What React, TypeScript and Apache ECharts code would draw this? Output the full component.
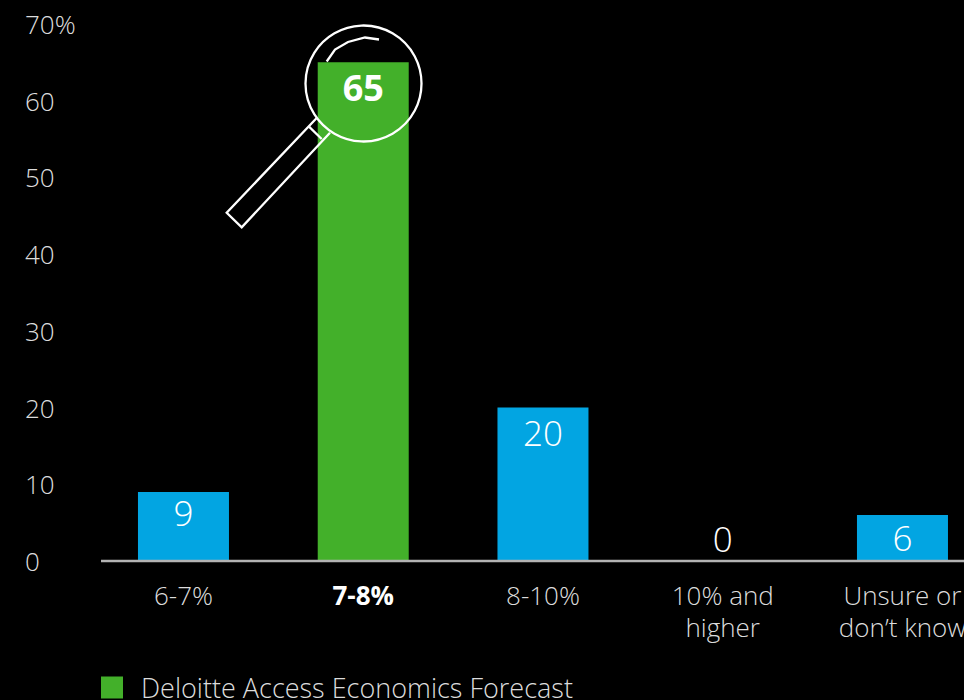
import React, { useEffect, useRef } from "react";
import * as echarts from "echarts";

const categories = ["6-7%", "7-8%", "8-10%", "10% and\nhigher", "Unsure or\ndon’t know"];
const values = [9, 65, 20, 0, 6];
const highlighted = "7-8%";
const seriesName = "Deloitte Access Economics Forecast";
const axisMax = 70;
const axisStep = 10;

const BLUE = "#02a5e2";
const GREEN = "#43b02a";
const FONT = "'Open Sans', sans-serif";
const RING = { stroke: "#fff", lineWidth: 2.3 };

// Gap between a bar's top and its value label; short bars sit tighter
const labelGap = (v: number) => (v === 0 ? 5 : v < 8 ? 5 : v < 10 ? 3 : 7);

export default function App() {
  const ref = useRef<HTMLDivElement>(null);

  useEffect(() => {
    document.body.style.margin = "0";
    document.body.style.background = "#000";
    const chart = echarts.init(ref.current!, undefined, { renderer: "svg" });
    chart.setOption({
      animation: false,
      backgroundColor: "#000",
      textStyle: { fontFamily: FONT },
      // The last category runs past the right edge of the canvas
      grid: {
        left: 93.6,
        width: 898.75,
        top: 24,
        height: 537,
        containLabel: false,
        outerBoundsMode: "none",
      },
      legend: {
        left: 101,
        top: 674,
        itemWidth: 22,
        itemHeight: 22,
        itemGap: 0,
        icon: "rect",
        padding: 0,
        textStyle: {
          color: "#dcdcdc",
          fontFamily: FONT,
          fontWeight: 300,
          fontSize: 27,
          lineHeight: 22,
          padding: [0, 0, 0, 13],
        },
        data: [seriesName],
      },
      xAxis: {
        type: "category",
        data: categories.map((c) =>
          c === highlighted ? { value: c, textStyle: { fontWeight: "bold", color: "#fff" } } : c
        ),
        axisLine: { show: false },
        axisTick: { show: false },
        axisLabel: {
          interval: 0,
          color: "#dcdcdc",
          fontFamily: FONT,
          fontWeight: 300,
          fontSize: 26,
          lineHeight: 32,
          margin: 18,
        },
      },
      yAxis: {
        type: "value",
        min: 0,
        max: axisMax,
        interval: axisStep,
        axisLine: { show: false },
        axisTick: { show: false },
        splitLine: { show: false },
        axisLabel: {
          align: "left",
          margin: 68.6,
          color: "#dcdcdc",
          fontFamily: FONT,
          fontWeight: 300,
          fontSize: 26,
          formatter: (v: number) => (v === axisMax ? `${v}%` : `${v}`),
        },
      },
      series: [
        {
          name: seriesName,
          type: "bar",
          barWidth: 91,
          itemStyle: { color: GREEN },
          data: values.map((v, i) => {
            const isHighlighted = categories[i] === highlighted;
            return {
              value: v,
              itemStyle: { color: isHighlighted ? GREEN : BLUE },
              label: {
                show: true,
                position: v === 0 ? "top" : "insideTop",
                distance: labelGap(v),
                color: "#fff",
                fontFamily: FONT,
                fontSize: isHighlighted ? 36 : 35,
                fontWeight: isHighlighted ? "bold" : 300,
              },
            };
          }),
        },
      ],
      graphic: [
        // Baseline under the bars
        {
          type: "line",
          z: 5,
          shape: { x1: 101, y1: 561, x2: 964, y2: 561 },
          style: { stroke: "#b3b3b3", lineWidth: 2.5 },
        },
        // Magnifying glass around the leading bar
        {
          type: "circle",
          z: 10,
          shape: { cx: 363.5, cy: 83.5, r: 58 },
          style: { fill: "none", ...RING },
        },
        {
          type: "polyline",
          z: 10,
          shape: { points: [[326.7, 61.5], [335, 49.5], [348, 42], [365, 37.5], [379, 39.5]] },
          style: { fill: "none", ...RING },
        },
        {
          type: "polyline",
          z: 10,
          shape: { points: [[316.7, 118], [226.7, 212.7], [241.7, 227.3], [330, 132.7]] },
          style: { fill: "none", ...RING },
        },
        {
          type: "line",
          z: 10,
          shape: { x1: 309, y1: 126.7, x2: 321.7, y2: 139 },
          style: { ...RING },
        },
      ],
    });
    return () => chart.dispose();
  }, []);

  return <div ref={ref} style={{ position: "absolute", left: 0, top: 0, width: 964, height: 700 }} />;
}
